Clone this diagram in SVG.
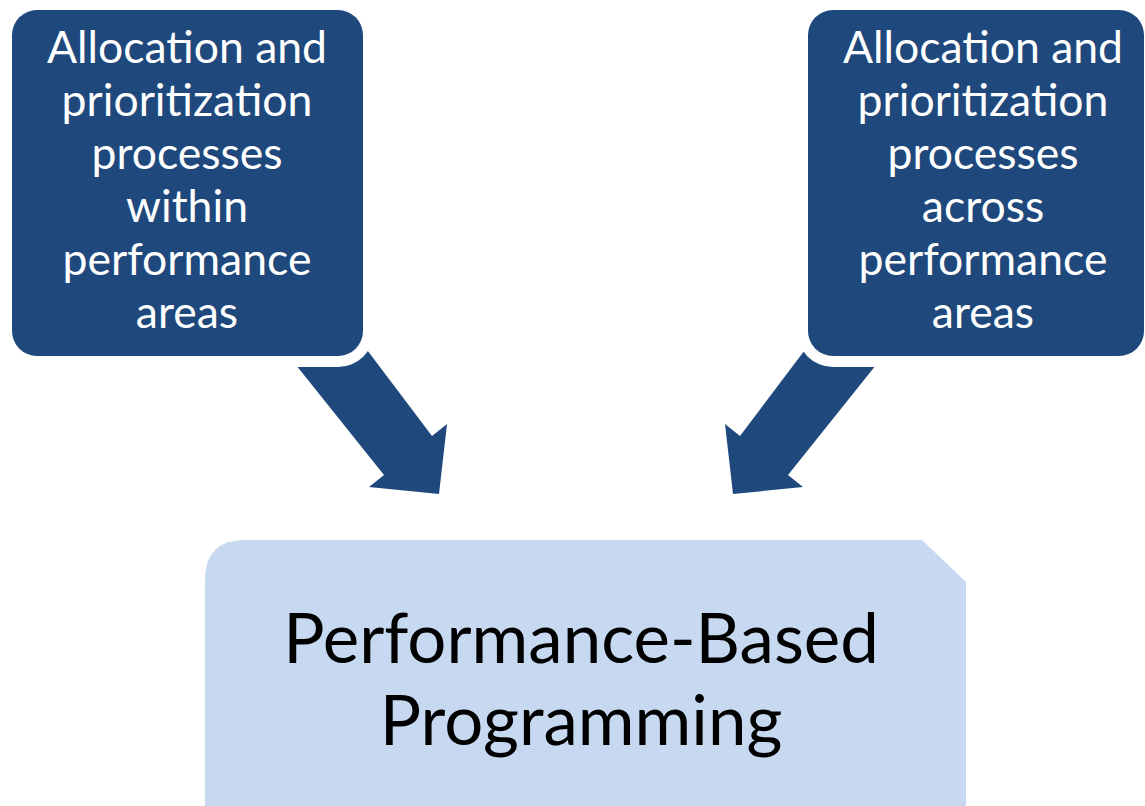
<svg xmlns="http://www.w3.org/2000/svg" width="1145" height="806" viewBox="0 0 1145 806">
<style>
.dark{fill:#1F497D}
.light{fill:#C6D9F1}
.wt{font-family:Lato,"Liberation Sans",sans-serif;font-size:44.5px;fill:#FFFFFF;text-anchor:middle}
.bt{font-family:Lato,"Liberation Sans",sans-serif;font-size:69px;fill:#000000;text-anchor:middle}
</style>
<rect width="1145" height="806" fill="#FFFFFF"/>
<g id="connectors">
<path class="dark" d="M276,340 L352,330 L432,436 L447,424 L439,494 L369,487 L384,475 Z"/>
<path class="dark" d="M870,340 L794,330 L714,436 L699,424 L707,494 L777,487 L762,475 Z" transform="translate(26,0)"/>
</g>
<g id="node-within">
<rect x="1" y="-1" width="373" height="368" rx="36" fill="#FFFFFF"/>
<rect class="dark" x="12" y="10" width="351" height="346" rx="25"/>
<text class="wt"><tspan x="187" y="63">Allocation and</tspan><tspan x="187" y="116">prioritization</tspan><tspan x="187" y="169">processes</tspan><tspan x="187" y="222">within</tspan><tspan x="187" y="275">performance</tspan><tspan x="187" y="328">areas</tspan></text>
</g>
<g id="node-across">
<rect x="797" y="-1" width="373" height="368" rx="36" fill="#FFFFFF"/>
<rect class="dark" x="808" y="10" width="336" height="346" rx="25"/>
<text class="wt"><tspan x="983" y="63">Allocation and</tspan><tspan x="983" y="116">prioritization</tspan><tspan x="983" y="169">processes</tspan><tspan x="983" y="222">across</tspan><tspan x="983" y="275">performance</tspan><tspan x="983" y="328">areas</tspan></text>
</g>
<g id="node-pbp">
<path class="light" d="M205,806 L205,580 Q205,540 245,540 L922,540 L966,582 L966,806 Z"/>
<text class="bt"><tspan x="581" y="663">Performance-Based</tspan><tspan x="581" y="745">Programming</tspan></text>
</g>
</svg>
